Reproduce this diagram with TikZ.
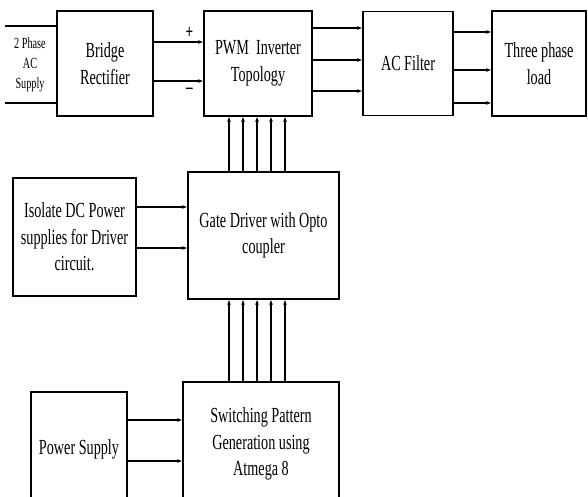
\documentclass[tikz,border=0pt]{standalone}
\usepackage{fontspec}
\setmainfont{Liberation Serif}[FakeStretch=0.66]
\usetikzlibrary{arrows.meta,positioning,calc}

\begin{document}
\begin{tikzpicture}[x=1pt,y=-1pt,
    every node/.style={font=\fontsize{21.5}{26.5}\selectfont,align=center},
    blk/.style={draw,line width=1.2pt,inner sep=2pt},
    arr/.style={-{Latex[length=5pt,width=4pt]},line width=1.1pt}]
    \useasboundingbox (0,0) rectangle (588,497);
    % power path
    \node[blk,minimum width=96pt,minimum height=105pt] (bridge) at (105,63.5) {Bridge\\Rectifier};
    \node[blk,minimum width=108pt,minimum height=105pt] (pwm) at (258,63.5) {PWM~~Inverter\\Topology};
    \node[blk,minimum width=90pt,minimum height=104pt] (filter) at (408,63.5) {AC Filter};
    \node[blk,minimum width=94pt,minimum height=105pt] (load) at (539,63.5) {Three phase\\load};
    % control path
    \node[blk,minimum width=123pt,minimum height=118pt] (isolate) at (74.5,237) {Isolate DC Power\\supplies for Driver\\circuit.};
    \node[blk,minimum width=151pt,minimum height=127pt] (gate) at (263.5,235.5) {Gate Driver with Opto\\coupler};
    \node[blk,minimum width=96pt,minimum height=114pt] (power) at (79,449) {Power Supply};
    \node[blk,minimum width=156pt,minimum height=124pt] (switch) at (261,444) {Switching Pattern\\Generation using\\Atmega 8};
    % ac input
    \node[font=\fontsize{15.5}{20}\selectfont] (acin) at (30,65) {2 Phase\\AC\\Supply};
    \coordinate (acA) at (5,26);
    \coordinate (acB) at (5,103);
    \draw[line width=1.2pt] (acA) -- (acA -| bridge.west);
    \draw[line width=1.2pt] (acB) -- (acB -| bridge.west);
    % connectors
    \draw[arr] ($(bridge.east)+(0,-21.5)$) -- ($(pwm.west)+(0,-21.5)$) node[pos=0.72,above,inner sep=3pt,font=\bfseries\fontsize{20}{20}\selectfont]{+};
    \draw[arr] ($(bridge.east)+(0,17.5)$) -- ($(pwm.west)+(0,17.5)$) node[pos=0.72,below,inner sep=7pt,font=\bfseries\fontsize{20}{20}\selectfont]{--};
    \foreach \s in {-35.5,-3.5,27.5}{\draw[arr] ($(pwm.east)+(0,\s)$) -- ($(filter.west)+(0,\s)$);}
    \foreach \s in {-31.5,6.5,39.5}{\draw[arr] ($(filter.east)+(0,\s)$) -- ($(load.west)+(0,\s)$);}
    \foreach \s in {-30,11}{\draw[arr] ($(isolate.east)+(0,\s)$) -- ($(isolate.east -| gate.west)+(0,\s)$);}
    \foreach \s in {-29,12}{\draw[arr] ($(power.east)+(0,\s)$) -- ($(power.east -| switch.west)+(0,\s)$);}
    \foreach \d in {-34.5,-20.5,-6.5,7.5,21.5}{
      \draw[arr] ($(gate.north)+(\d,0)$) -- ($(gate.north |- pwm.south)+(\d,0)$);
      \draw[arr] ($(gate.south |- switch.north)+(\d,0)$) -- ($(gate.south)+(\d,0)$);
    }
\end{tikzpicture}
\end{document}
